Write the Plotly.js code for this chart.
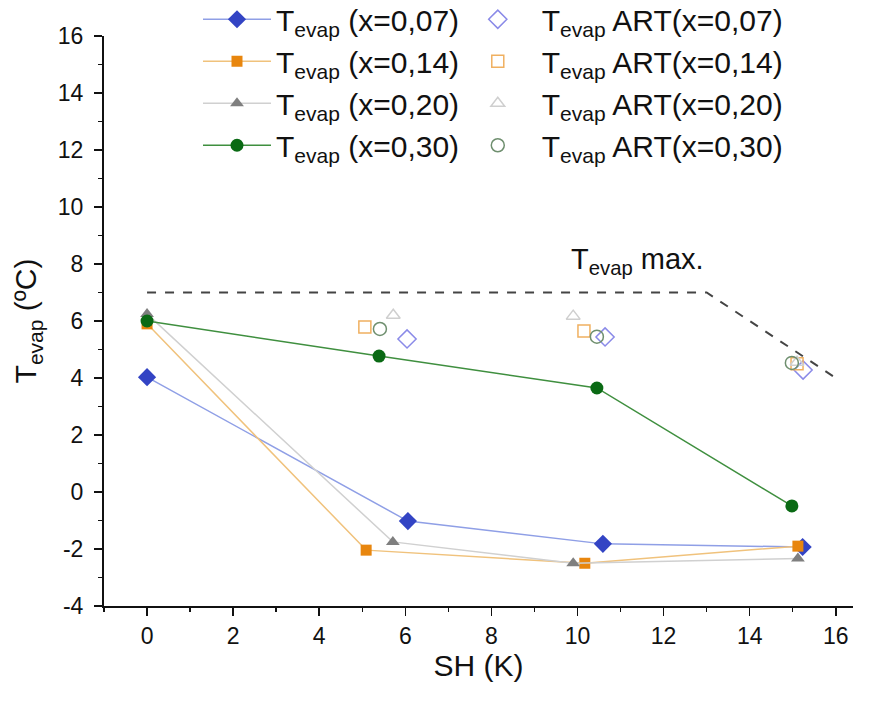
<!DOCTYPE html>
<html>
<head>
<meta charset="utf-8">
<script src="https://cdn.plot.ly/plotly-3.0.1.min.js"></script>
<style>html,body{margin:0;padding:0;background:#fff;}#chart{width:871px;height:702px;}</style>
</head>
<body>
<div id="chart"></div>
<script>
// Measured series (SH in K, Tevap in ºC)
const sh007 = [0, 6.06, 10.59, 15.23];
const t007  = [4.03, -1.02, -1.82, -1.93];
const sh014 = [0, 5.09, 10.17, 15.12];
const t014  = [5.9, -2.04, -2.5, -1.9];
const sh020 = [0, 5.71, 9.9, 15.12];
const t020  = [6.25, -1.75, -2.5, -2.33];
const sh030 = [0, 5.39, 10.45, 14.98];
const t030  = [6.0, 4.77, 3.65, -0.49];

// ART series
const shArt007 = [6.04, 10.64, 15.24];
const tArt007  = [5.37, 5.44, 4.28];
const shArt014 = [5.06, 10.15, 15.1];
const tArt014  = [5.79, 5.65, 4.5];
const shArt020 = [5.72, 9.9, 15.1];
const tArt020  = [6.2, 6.17, 4.55];
const shArt030 = [5.41, 10.45, 14.98];
const tArt030  = [5.72, 5.45, 4.53];

// Tevap max limit line
const shMax = [0, 13, 16];
const tMax  = [7, 7, 4];

// Tick labels
const xTickVals = [0, 2, 4, 6, 8, 10, 12, 14, 16];
const xTickText = ['0', '2', '4', '6', '8', '10', '12', '14', '16'];
const yTickVals = [-4, -2, 0, 2, 4, 6, 8, 10, 12, 14, 16];
const yTickText = ['-4', '-2', '0', '2', '4', '6', '8', '10', '12', '14', '16'];

const names = ['T<sub>evap</sub> (x=0,07)','T<sub>evap</sub> (x=0,14)','T<sub>evap</sub> (x=0,20)','T<sub>evap</sub> (x=0,30)'];
const artNames = ['T<sub>evap</sub> ART(x=0,07)','T<sub>evap</sub> ART(x=0,14)','T<sub>evap</sub> ART(x=0,20)','T<sub>evap</sub> ART(x=0,30)'];

const font = 'Liberation Sans, Arial, sans-serif';

const traces = [
  {x: shMax, y: tMax, mode:'lines', line:{color:'#444', width:2, dash:'dash'}, showlegend:false, hoverinfo:'skip'},
  {x: sh007, y: t007, name: names[0], mode:'lines+markers', line:{color:'#8f9fe6', width:1.5}, marker:{symbol:'diamond', size:14, color:'#3344c4'}, legend:'legend'},
  {x: sh014, y: t014, name: names[1], mode:'lines+markers', line:{color:'#f0c27c', width:1.5}, marker:{symbol:'square', size:11, color:'#e8860e'}, legend:'legend'},
  {x: sh020, y: t020, name: names[2], mode:'lines+markers', line:{color:'#d0d0d0', width:1.5}, marker:{symbol:'triangle-up', size:12, color:'#7f7f7f'}, legend:'legend'},
  {x: sh030, y: t030, name: names[3], mode:'lines+markers', line:{color:'#3f8f3f', width:1.5}, marker:{symbol:'circle', size:13, color:'#0a6a14'}, legend:'legend'},
  {x: shArt007, y: tArt007, name: artNames[0], mode:'markers', marker:{symbol:'diamond-open', size:14, color:'#8a8ae8', line:{width:1.5}}, legend:'legend2'},
  {x: shArt014, y: tArt014, name: artNames[1], mode:'markers', marker:{symbol:'square-open', size:12, color:'#f0b060', line:{width:1.5}}, legend:'legend2'},
  {x: shArt020, y: tArt020, name: artNames[2], mode:'markers', marker:{symbol:'triangle-up-open', size:12, color:'#cfcfcf', line:{width:1.5}}, legend:'legend2'},
  {x: shArt030, y: tArt030, name: artNames[3], mode:'markers', marker:{symbol:'circle-open', size:13, color:'#6f8f6f', line:{width:1.5}}, legend:'legend2'}
];

const layout = {
  width: 871, height: 702,
  margin: {l:104, r:18, t:36, b:96, autoexpand:false},
  paper_bgcolor:'#fff', plot_bgcolor:'#fff',
  font: {family: font, size: 23, color:'#111'},
  showlegend: true,
  xaxis: {
    range:[-1, 16.4], tickmode:'array', tickvals:xTickVals, ticktext:xTickText,
    showgrid:false, zeroline:false, showline:true, linecolor:'#111', linewidth:2,
    ticks:'outside', ticklen:8, tickwidth:1.5, tickcolor:'#111',
    minor:{dtick:1, tick0:0, ticks:'outside', ticklen:4, tickwidth:1.5, tickcolor:'#111'},
    tickfont:{size:23, family:font},
    title:{text:'SH (K)', font:{size:30, family:font}, standoff:0}
  },
  yaxis: {
    range:[-4, 16], tickmode:'array', tickvals:yTickVals, ticktext:yTickText,
    showgrid:false, zeroline:false, showline:true, linecolor:'#111', linewidth:2,
    ticks:'outside', ticklen:8, tickwidth:1.5, tickcolor:'#111', ticklabelstandoff:6,
    minor:{dtick:1, tick0:0, ticks:'outside', ticklen:4, tickwidth:1.5, tickcolor:'#111'},
    tickfont:{size:23, family:font},
    title:{text:'T<sub>evap</sub> (ºC)', font:{size:30, family:font}, standoff:12}
  },
  legend: {
    x:0.1255, y:1.075, xanchor:'left', yanchor:'top', bgcolor:'rgba(0,0,0,0)',
    font:{size:30, family:font}, itemwidth:68, tracegroupgap:0, traceorder:'normal'
  },
  legend2: {
    x:0.467, y:1.075, xanchor:'left', yanchor:'top', bgcolor:'rgba(0,0,0,0)',
    font:{size:30, family:font}, itemwidth:78, tracegroupgap:0, traceorder:'normal'
  },
  annotations: [
    {x:11.4, y:8.1, xref:'x', yref:'y', text:'T<sub>evap</sub> max.', showarrow:false, font:{size:29, family:font, color:'#111'}}
  ]
};

Plotly.newPlot('chart', traces, layout, {displayModeBar:false, staticPlot:true});
</script>
</body>
</html>
